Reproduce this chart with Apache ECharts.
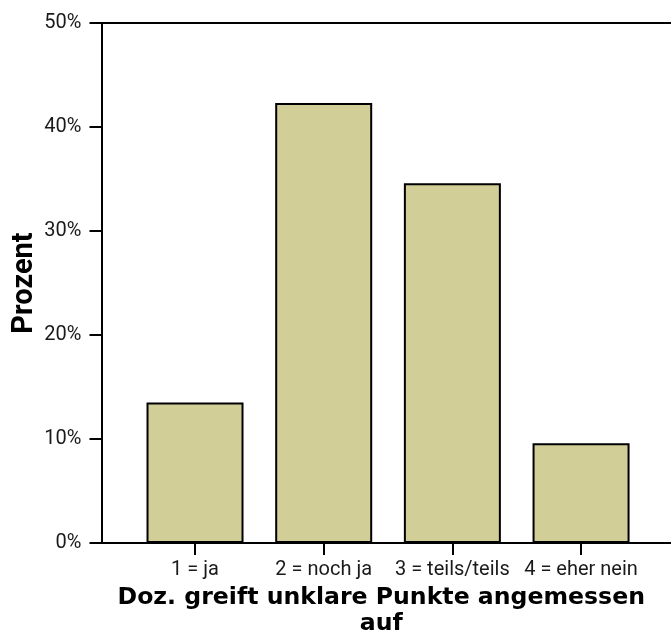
<!DOCTYPE html>
<html>
<head>
<meta charset="utf-8">
<script src="https://cdn.jsdelivr.net/npm/echarts@6/dist/echarts.min.js"></script>
<style>
html,body{margin:0;padding:0;background:#fff;}
#chart{width:671px;height:637px;}
</style>
</head>
<body>
<div id="chart"></div>
<script>
var categories = ['1 = ja', '2 = noch ja', '3 = teils/teils', '4 = eher nein'];
var categoryPositions = [1, 2, 3, 4];
var percentValues = [13.5, 42.3, 34.6, 9.6];
var yTicks = [0, 10, 20, 30, 40, 50];
var xTitle = 'Doz. greift unklare Punkte angemessen\nauf';
var yTitle = 'Prozent';

var barData = categoryPositions.map(function (p, i) { return [p, percentValues[i]]; });

var chart = echarts.init(document.getElementById('chart'), null, {renderer: 'canvas'});
chart.setOption({
  animation: false,
  grid: {left: 101.5, right: 0, top: 23, bottom: 94, containLabel: false, outerBoundsMode: 'none'},
  xAxis: [{
    type: 'value',
    min: 0.2733,
    max: 4.699,
    position: 'bottom',
    splitLine: {show: false},
    axisLine: {show: true, lineStyle: {color: '#000', width: 2}},
    axisTick: {show: true, customValues: categoryPositions, length: 12, lineStyle: {color: '#000', width: 2}},
    axisLabel: {
      show: true, customValues: categoryPositions, margin: 17,
      fontFamily: 'Roboto', fontSize: 20, color: '#1a1a1a',
      formatter: function (v) { return categories[Math.round(v) - 1]; }
    },
    name: xTitle,
    nameLocation: 'middle',
    nameGap: 42,
    nameTextStyle: {fontFamily: 'DejaVu Sans', fontWeight: 'bold', fontSize: 23.6, color: '#000', lineHeight: 26, align: 'center', padding: [0, 10, 0, 0]}
  }, {
    type: 'value',
    min: 0.2733,
    max: 4.699,
    position: 'top',
    splitLine: {show: false},
    axisLine: {show: true, onZero: false, lineStyle: {color: '#000', width: 2}},
    axisTick: {show: false},
    axisLabel: {show: false}
  }],
  yAxis: {
    type: 'value',
    min: 0,
    max: 50,
    interval: 10,
    splitLine: {show: false},
    axisLine: {show: true, lineStyle: {color: '#000', width: 2}},
    axisTick: {show: true, length: 12, lineStyle: {color: '#000', width: 2}},
    axisLabel: {margin: 20, fontFamily: 'Roboto', fontSize: 20, color: '#1a1a1a', formatter: function (v) { return v + '%'; }},
    name: yTitle,
    nameLocation: 'middle',
    nameGap: 62,
    nameMoveOverlap: false,
    nameTextStyle: {fontFamily: 'Roboto', fontWeight: 'bold', fontSize: 29, color: '#000'}
  },
  series: [{
    type: 'bar',
    data: barData,
    barWidth: 97,
    itemStyle: {color: '#d2ce98', borderColor: '#000', borderWidth: 2}
  }]
});
</script>
</body>
</html>
